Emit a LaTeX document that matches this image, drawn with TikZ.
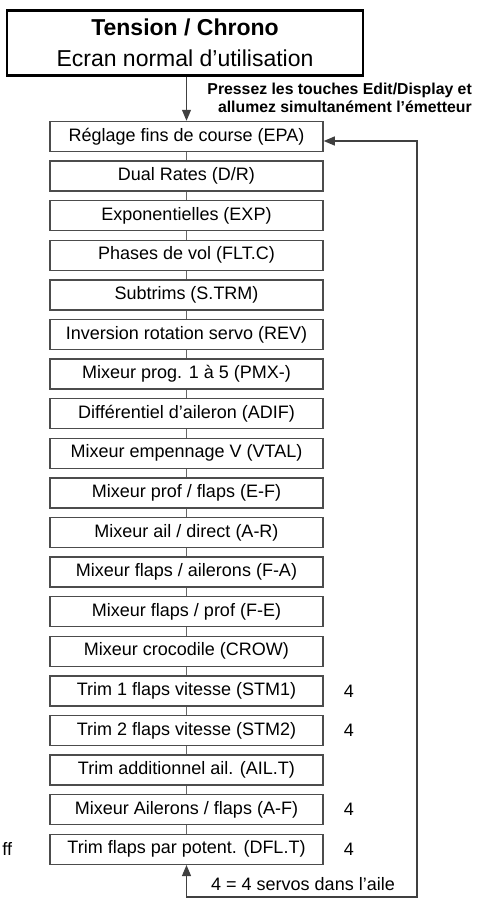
\documentclass[tikz,border=0pt]{standalone}
\usepackage{fontspec}
\setmainfont{Liberation Sans}
\usetikzlibrary{positioning,arrows.meta}

\tikzset{
    menubox/.style={draw=black!70, line width=1.5pt, minimum width=273pt, minimum height=30pt,
        inner sep=0pt, font=\fontsize{18}{21}\selectfont},
    link/.style={draw=black!60, line width=1pt},
    loopline/.style={draw=black!75, line width=1.2pt},
    tip/.style={-{Triangle[length=11pt,width=9pt]}},
    side/.style={font=\fontsize{18}{21}\selectfont, inner sep=0pt}
}

\begin{document}
\begin{tikzpicture}[x=1pt, y=-1pt, node distance=8.1pt]
    \useasboundingbox (0, 0) rectangle (481, 898) ;

    \node[draw, line width=2.4pt, minimum width=356pt, minimum height=65pt, align=center,
        font=\fontsize{23}{31}\selectfont] (home) at (185, 43)
        {\textbf{Tension / Chrono}\\Ecran normal d’utilisation} ;

    \node[menubox] (b1) at (186.5, 136.5) {Réglage fins de course (EPA)} ;
    \node[menubox, below=of b1] (b2) {Dual Rates (D/R)} ;
    \node[menubox, below=of b2] (b3) {Exponentielles (EXP)} ;
    \node[menubox, below=of b3] (b4) {Phases de vol (FLT.C)} ;
    \node[menubox, below=of b4] (b5) {Subtrims (S.TRM)} ;
    \node[menubox, below=of b5] (b6) {Inversion rotation servo (REV)} ;
    \node[menubox, below=of b6] (b7) {Mixeur prog. 1 à 5 (PMX-)} ;
    \node[menubox, below=of b7] (b8) {Différentiel d’aileron (ADIF)} ;
    \node[menubox, below=of b8] (b9) {Mixeur empennage V (VTAL)} ;
    \node[menubox, below=of b9] (b10) {Mixeur prof / flaps (E-F)} ;
    \node[menubox, below=of b10] (b11) {Mixeur ail / direct (A-R)} ;
    \node[menubox, below=of b11] (b12) {Mixeur flaps / ailerons (F-A)} ;
    \node[menubox, below=of b12] (b13) {Mixeur flaps / prof (F-E)} ;
    \node[menubox, below=of b13] (b14) {Mixeur crocodile (CROW)} ;
    \node[menubox, below=of b14] (b15) {Trim 1 flaps vitesse (STM1)} ;
    \node[menubox, below=of b15] (b16) {Trim 2 flaps vitesse (STM2)} ;
    \node[menubox, below=of b16] (b17) {Trim additionnel ail. (AIL.T)} ;
    \node[menubox, below=of b17] (b18) {Mixeur Ailerons / flaps (A-F)} ;
    \node[menubox, below=of b18] (b19) {Trim flaps par potent. (DFL.T)} ;

    % links between the menu screens
    \foreach \i in {1,...,18} {
        \pgfmathtruncatemacro{\j}{\i+1}
        \draw[link] (b\i) -- (b\j) ;
    }

    % power on with Edit/Display
    \draw[loopline, tip] (home.south -| b1) -- (b1.north) ;
    \node[anchor=north east, align=right, inner sep=0pt,
        font=\fontsize{15.8}{18}\selectfont\bfseries] (hint) at (472, 83)
        {Pressez les touches Edit/Display et\\allumez simultanément l’émetteur} ;

    % return loop
    \coordinate (lowcorner) at (417, 897) ;
    \draw[loopline, {Triangle[length=11pt,width=9pt]}-{Triangle[length=11pt,width=9pt]}]
        (b19.south) |- (lowcorner) |- ([yshift=-4.5pt]b1.east) ;

    % wing servo marks
    \node[side, right=20pt of b15] (m15) {4} ;
    \node[side, right=20pt of b16] (m16) {4} ;
    \node[side, right=20pt of b18] (m18) {4} ;
    \node[side, right=20pt of b19] (m19) {4} ;
    \node[side] (note) at (303, 884) {4 = 4 servos dans l'aile} ;
    \node[side, left=37pt of b19] (cut) {ff} ;
\end{tikzpicture}
\end{document}
